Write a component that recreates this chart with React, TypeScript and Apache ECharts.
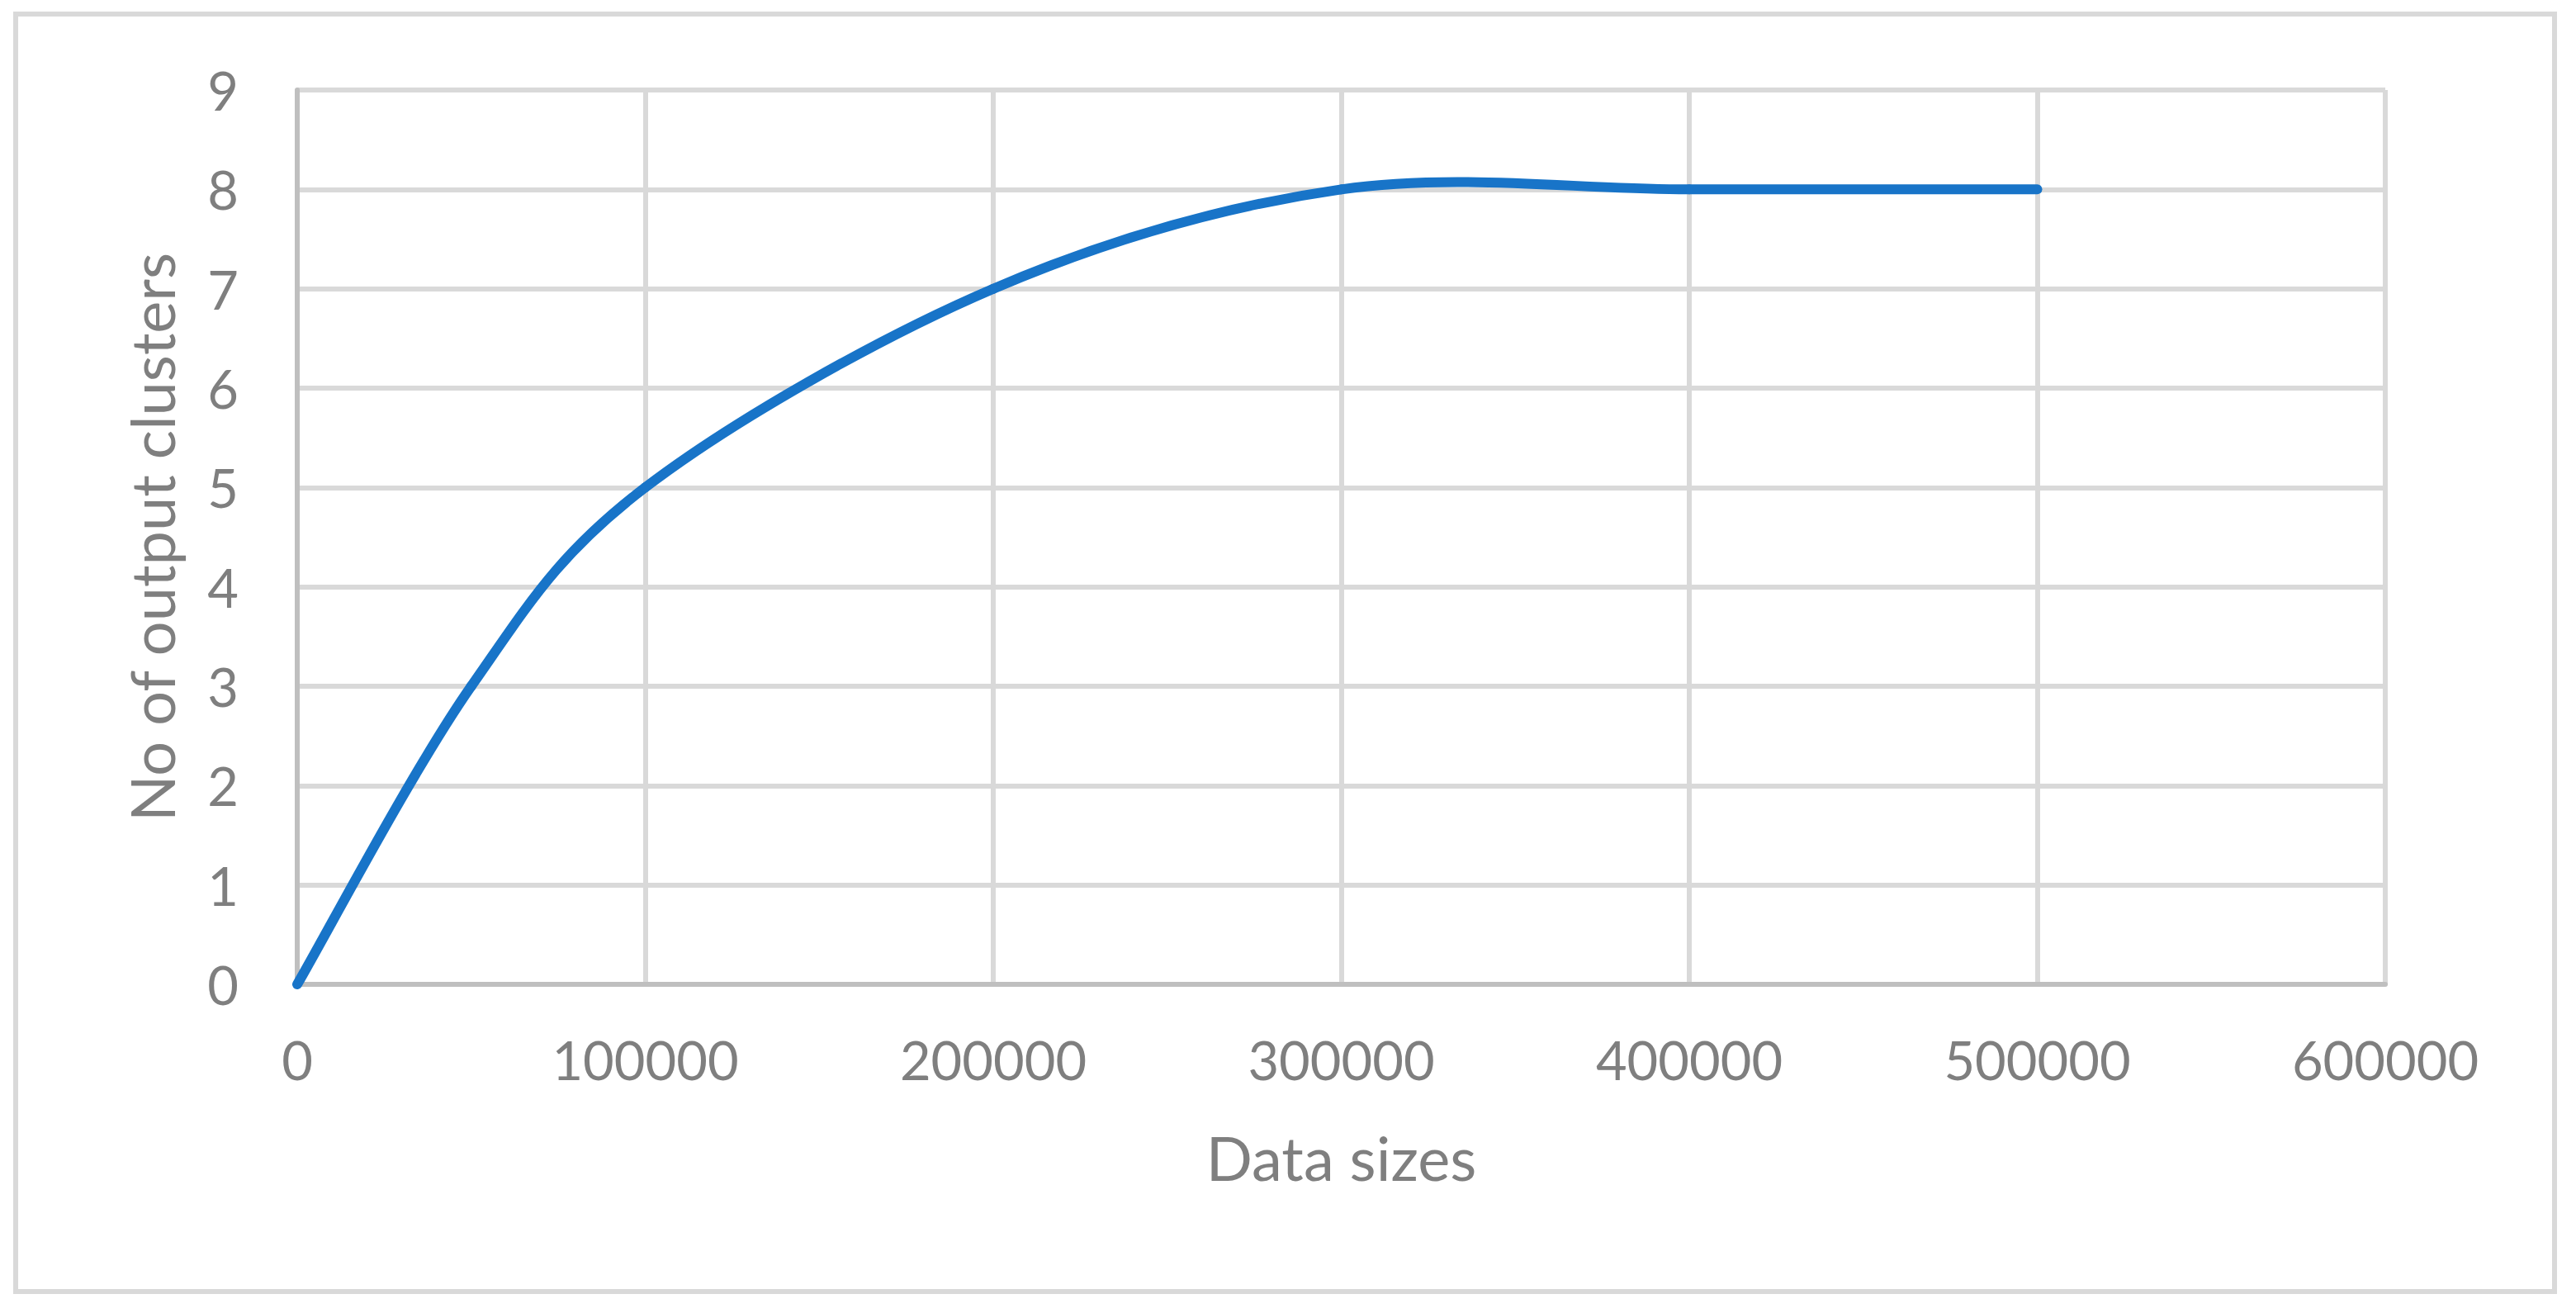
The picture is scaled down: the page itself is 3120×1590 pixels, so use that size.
import React, { useEffect, useRef } from "react";
import * as echarts from "echarts";

const dataSizes = [0, 50000, 100000, 200000, 300000, 400000, 500000];
const outputClusters = [0, 3, 5, 7, 8, 8, 8];
const xTitle = "Data sizes";
const yTitle = "No of output clusters";

export default function App() {
  const ref = useRef<HTMLDivElement>(null);

  useEffect(() => {
    document.body.style.margin = "0";
    const chart = echarts.init(ref.current!, null, { renderer: "svg" });
    const font = "Lato, 'Noto Sans', sans-serif";
    const grey = "#7F7F7F";
    const lineColor = "#1874C8";
    const n = dataSizes.length;

    const renderItem = (params: any, api: any) => {
      const i = params.dataIndex;
      if (i >= n - 1) return null;
      const pt = (k: number) => {
        const kk = Math.max(0, Math.min(n - 1, k));
        return api.coord([dataSizes[kk], outputClusters[kk]]);
      };
      const p0 = pt(i - 1);
      const p1 = pt(i);
      const p2 = pt(i + 1);
      const p3 = pt(i + 2);
      // Catmull-Rom style (Excel-like) control points
      const c1x = p1[0] + (p2[0] - p0[0]) / 6;
      const c1y = p1[1] + (p2[1] - p0[1]) / 6;
      const c2x = p2[0] - (p3[0] - p1[0]) / 6;
      const c2y = p2[1] - (p3[1] - p1[1]) / 6;
      return {
        type: "bezierCurve",
        shape: {
          x1: p1[0],
          y1: p1[1],
          x2: p2[0],
          y2: p2[1],
          cpx1: c1x,
          cpy1: c1y,
          cpx2: c2x,
          cpy2: c2y,
        },
        style: {
          fill: null,
          stroke: lineColor,
          lineWidth: 12,
          lineCap: "round",
          lineJoin: "round",
        },
      };
    };

    chart.setOption({
      animation: false,
      backgroundColor: "#ffffff",
      graphic: [
        {
          type: "rect",
          shape: { x: 19, y: 17, width: 3075, height: 1547 },
          style: { fill: "none", stroke: "#D9D9D9", lineWidth: 6 },
          silent: true,
        },
      ],
      grid: { left: 360, right: 231, top: 109, bottom: 398 },
      xAxis: {
        type: "value",
        min: 0,
        max: 600000,
        interval: 100000,
        name: xTitle,
        nameLocation: "middle",
        nameGap: 172,
        nameTextStyle: { fontFamily: font, fontSize: 74, color: grey },
        axisLine: { show: true, lineStyle: { color: "#BFBFBF", width: 6 } },
        axisTick: { show: false },
        axisLabel: {
          fontFamily: font,
          fontSize: 65,
          color: grey,
          margin: 58,
          formatter: (v: number) => String(v),
        },
        splitLine: { show: true, lineStyle: { color: "#D9D9D9", width: 6 } },
      },
      yAxis: {
        type: "value",
        min: 0,
        max: 9,
        interval: 1,
        name: yTitle,
        nameLocation: "middle",
        nameGap: 140,
        nameRotate: 90,
        nameTextStyle: { fontFamily: font, fontSize: 74, color: grey },
        axisLine: { show: true, lineStyle: { color: "#BFBFBF", width: 6 } },
        axisTick: { show: false },
        axisLabel: {
          fontFamily: font,
          fontSize: 65,
          color: grey,
          margin: 71,
          formatter: (v: number) => String(v),
        },
        splitLine: { show: true, lineStyle: { color: "#D9D9D9", width: 6 } },
      },
      series: [
        {
          type: "custom",
          coordinateSystem: "cartesian2d",
          renderItem,
          encode: { x: 0, y: 1 },
          data: dataSizes.map((x, i) => [x, outputClusters[i]]),
          z: 3,
        },
      ],
    });
    return () => chart.dispose();
  }, []);

  return (
    <div
      ref={ref}
      style={{ position: "fixed", left: 0, top: 0, width: 3120, height: 1590 }}
    />
  );
}
